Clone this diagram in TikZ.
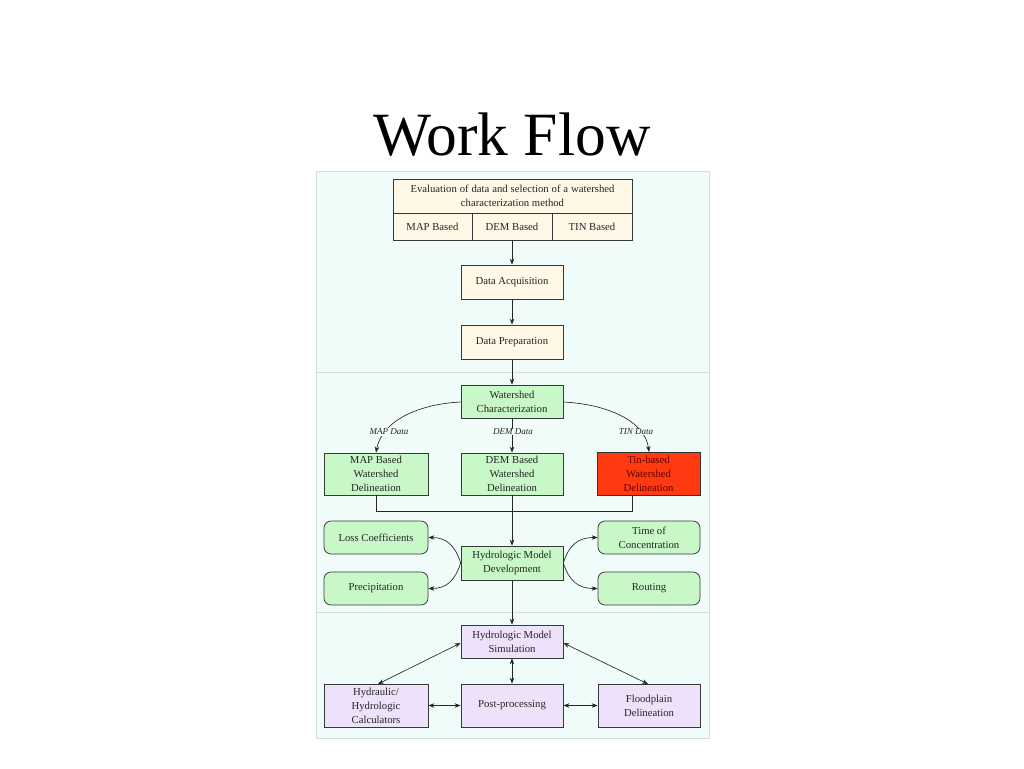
\documentclass[tikz,border=0pt]{standalone}
\usepackage{fontspec}
\setmainfont{Liberation Serif}
\usetikzlibrary{arrows.meta}
\definecolor{panel}{HTML}{F0FCF9}
\definecolor{panelline}{HTML}{D4DEDC}
\definecolor{cream}{HTML}{FFF8E6}
\definecolor{lgreen}{HTML}{C8F7C8}
\definecolor{lilac}{HTML}{EEE2FA}
\definecolor{hot}{HTML}{FF3A10}
\definecolor{edge}{HTML}{383838}
\begin{document}
\begin{tikzpicture}[x=1pt,y=-1pt,
  box/.style={draw=edge,line width=0.75pt,align=center,inner sep=1pt,
    font=\fontsize{10.7}{14}\selectfont,text=black!85},
  creambox/.style={box,fill=cream},
  greenbox/.style={box,fill=lgreen},
  roundbox/.style={box,fill=lgreen,rounded corners=7pt},
  lilacbox/.style={box,fill=lilac},
  redbox/.style={box,fill=hot,draw=black!80,line width=1pt,text=black!60!red},
  lab/.style={font=\fontsize{9}{10}\selectfont\itshape,fill=panel,inner sep=0.5pt,text=black!85},
  conn/.style={line width=0.65pt,draw=black!85},
  tip/.style={-{Stealth[length=6pt,width=4.5pt]}},
  both/.style={{Stealth[length=6pt,width=4.5pt]}-{Stealth[length=6pt,width=4.5pt]}}]
\useasboundingbox (0,0) rectangle (1024,768);
\fill[white] (0,0) rectangle (1024,768);
% title
\node[anchor=base,font=\fontsize{61.5}{62}\selectfont] (title) at (512,155) {Work Flow};
% panel
\draw[fill=panel,draw=panelline,line width=0.8pt] (316,171) rectangle (709,738);
\draw[panelline,line width=0.8pt] (316,372) -- (709,372);
\draw[panelline,line width=0.8pt] (316,612) -- (709,612);
% top box
\node[creambox,minimum width=239pt,minimum height=34pt] (eval) at (512.5,196)
  {\makebox[204pt][s]{Evaluation of data and selection of a watershed}\\characterization method};
\node[creambox,minimum width=79pt,minimum height=27pt] (mapb) at (432.5,226.5) {MAP Based};
\node[creambox,minimum width=80pt,minimum height=27pt] (demb) at (512,226.5) {DEM Based};
\node[creambox,minimum width=80pt,minimum height=27pt] (tinb) at (592,226.5) {TIN Based};
\node[creambox,minimum width=102pt,minimum height=34pt] (acq) at (512,282) {Data Acquisition};
\node[creambox,minimum width=102pt,minimum height=34pt] (prep) at (512,342) {Data Preparation};
% watershed
\node[greenbox,minimum width=102pt,minimum height=33pt] (wc) at (512,401.5) {Watershed\\Characterization};
\node[greenbox,minimum width=104pt,minimum height=42pt] (mapd) at (376,474) {MAP Based\\Watershed\\Delineation};
\node[greenbox,minimum width=102pt,minimum height=42pt] (demd) at (512,474) {DEM Based\\Watershed\\Delineation};
\node[redbox,minimum width=103pt,minimum height=43pt] (tind) at (648.5,473.5) {Tin-based\\Watershed\\Delineation};
% hydrologic model development
\node[greenbox,minimum width=102pt,minimum height=34pt] (hmd) at (512,563) {Hydrologic Model\\Development};
\node[roundbox,minimum width=104pt,minimum height=33pt] (loss) at (376,537.5) {Loss Coefficients};
\node[roundbox,minimum width=104pt,minimum height=33pt] (prec) at (376,588.5) {Precipitation};
\node[roundbox,minimum width=102pt,minimum height=33pt] (toc) at (649,537.5) {Time of\\Concentration};
\node[roundbox,minimum width=102pt,minimum height=33pt] (rout) at (649,588.5) {Routing};
% simulation
\node[lilacbox,minimum width=102pt,minimum height=33pt] (hms) at (512,641.5) {Hydrologic Model\\Simulation};
\node[lilacbox,minimum width=104pt,minimum height=43pt] (calc) at (376,705.5) {Hydraulic/\\Hydrologic\\Calculators};
\node[lilacbox,minimum width=102pt,minimum height=43pt] (post) at (512,705.5) {Post-processing};
\node[lilacbox,minimum width=102pt,minimum height=43pt] (flood) at (649,705.5) {Floodplain\\Delineation};
% connectors
\draw[conn,tip] (demb.south) -- (acq.north);
\draw[conn,tip] (acq.south) -- (prep.north);
\draw[conn,tip] (prep.south) -- (wc.north);
\draw[conn,tip] (wc.west |- 0,402) .. controls (420,404) and (382,420) .. (mapd.north);
\draw[conn,tip] (wc.south) -- (demd.north);
\draw[conn,tip] (wc.east |- 0,402) .. controls (605,404) and (645,420) .. (649,452);
\node[lab] (mapl) at (389,432) {MAP Data};
\node[lab] (deml) at (513,432) {DEM Data};
\node[lab] (tinl) at (636,432) {TIN Data};
\coordinate (jl) at (mapd.south |- 0,511);
\coordinate (jr) at (632,511);
\draw[conn] (mapd.south) -- (jl) -- (jr) -- (632,495);
\draw[conn,tip] (demd.south) -- (hmd.north);
\draw[conn,tip] (hmd.west) .. controls (455,545) and (446,537.5) .. (loss.east);
\draw[conn,tip] (hmd.west) .. controls (455,581) and (446,588.5) .. (prec.east);
\draw[conn,tip] (hmd.east) .. controls (569,545) and (578,537.5) .. (toc.west);
\draw[conn,tip] (hmd.east) .. controls (569,581) and (578,588.5) .. (rout.west);
\draw[conn,tip] (hmd.south) -- (hms.north);
\draw[conn,both] (hms.west |- 0,643) -- (378,684);
\draw[conn,both] (hms.east |- 0,643) -- (648,684);
\draw[conn,both] (hms.south) -- (post.north);
\draw[conn,both] (calc.east) -- (post.west);
\draw[conn,both] (post.east) -- (flood.west);
\end{tikzpicture}
\end{document}
